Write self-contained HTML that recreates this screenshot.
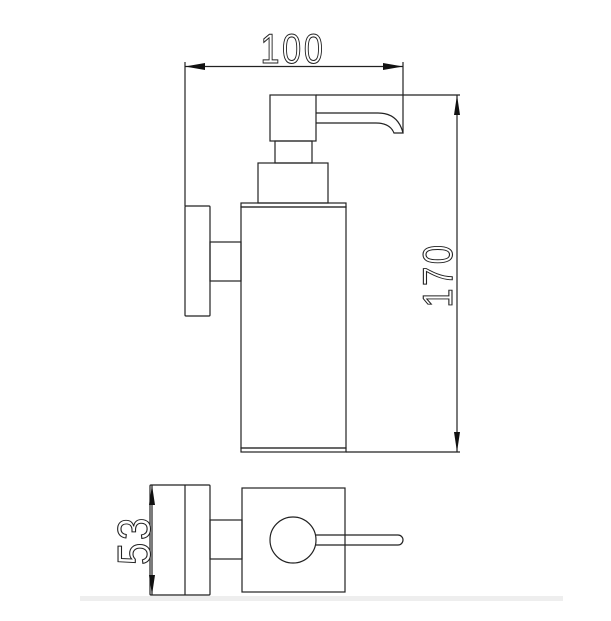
<!DOCTYPE html>
<html><head><style>
html,body{margin:0;padding:0;background:#fff;width:611px;height:621px;overflow:hidden}
svg text{font-family:"Liberation Sans",sans-serif;fill:#fff;stroke:#222;stroke-width:1}
</style></head><body>
<svg width="611" height="621" viewBox="0 0 611 621" xmlns="http://www.w3.org/2000/svg">
<rect x="80" y="596" width="483" height="5" fill="#eee"/>
<g fill="none" stroke="#222" stroke-width="1.2">
<line x1="185" y1="62" x2="185" y2="206"/>
<line x1="403" y1="62" x2="403" y2="133"/>
<line x1="185" y1="66.5" x2="403" y2="66.5"/>
<rect x="270" y="95" width="46" height="46"/>
<line x1="316" y1="95" x2="460" y2="95"/>
<path d="M316 113 H378 Q398 113 403 133 H394 Q390 123 376 123 H316"/>
<rect x="275" y="141" width="37" height="22"/>
<rect x="258" y="163" width="70" height="40"/>
<rect x="241" y="203" width="105" height="4"/>
<rect x="241" y="207" width="105" height="241"/>
<rect x="241" y="448" width="105" height="4"/>
<rect x="185" y="206" width="25" height="110" rx="1"/>
<rect x="210" y="242" width="31" height="39"/>
<line x1="457" y1="95" x2="457" y2="452"/>
<line x1="346" y1="452" x2="460" y2="452"/>
<rect x="150" y="485" width="60" height="110" rx="1"/>
<line x1="185" y1="485" x2="185" y2="595"/>
<rect x="210" y="520" width="32" height="39"/>
<rect x="242" y="488" width="103" height="104"/>
<circle cx="293" cy="540" r="23"/>
<path d="M316 535 H398 A5 5 0 0 1 398 545 H316"/>
<line x1="152" y1="485" x2="152" y2="595"/>
</g>
<g fill="#111">
<polygon points="185,66.5 205,63 205,70"/>
<polygon points="403,66.5 383,63 383,70"/>
<polygon points="457,95 454,115 460,115"/>
<polygon points="457,452 454,432 460,432"/>
<polygon points="152,485 149,505 155,505"/>
<polygon points="152,595 149,575 155,575"/>
</g>
<text transform="translate(293,63) scale(0.9,1.1)" font-size="38" text-anchor="middle" letter-spacing="3">100</text>
<text transform="translate(452,275) rotate(-90) scale(0.9,1.1)" font-size="38" text-anchor="middle" letter-spacing="3">170</text>
<text transform="translate(150,540) rotate(-90) scale(0.95,1.1)" font-size="42" text-anchor="middle" letter-spacing="3">53</text>
</svg>
</body></html>
